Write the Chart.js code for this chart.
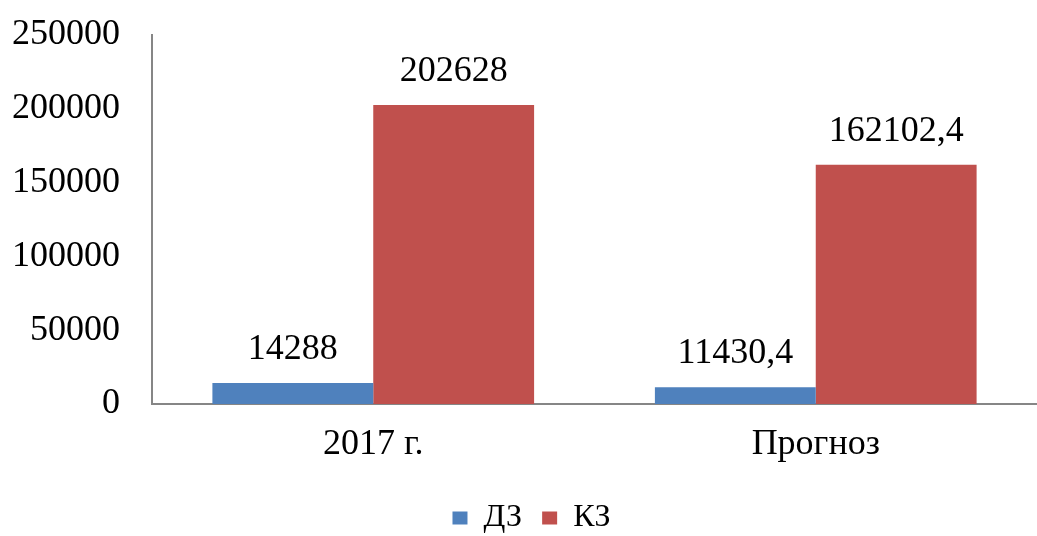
<!DOCTYPE html>
<html>
<head>
<meta charset="utf-8">
<script src="https://cdn.jsdelivr.net/npm/chart.js@4"></script>
<style>
  body { margin: 0; background: #fff; }
  #wrap { width: 1037px; height: 536px; }
</style>
</head>
<body>
<div id="wrap"><canvas id="myChart"></canvas></div>
<script>
const categories = ["2017 г.", "Прогноз"];
const seriesNames = ["ДЗ", "КЗ"];
const dzValues = [14288, 11430.4];
const kzValues = [202628, 162102.4];
const yTicks = [0, 50000, 100000, 150000, 200000, 250000];
const colors = ["#4F81BD", "#C0504D"];

const fontFamily = "'Liberation Serif', 'Times New Roman', serif";
const fontSize = 36;

const formatValue = (v) => String(v).replace(".", ",");

// подписи значений над столбцами
const valueLabels = {
  id: "valueLabels",
  afterDatasetsDraw(chart) {
    const ctx = chart.ctx;
    ctx.save();
    ctx.font = `${fontSize}px ${fontFamily}`;
    ctx.fillStyle = "#000";
    ctx.textAlign = "center";
    ctx.textBaseline = "alphabetic";
    chart.data.datasets.forEach((ds, i) => {
      const meta = chart.getDatasetMeta(i);
      meta.data.forEach((bar, j) => {
        ctx.fillText(formatValue(ds.data[j]), bar.x, bar.y - 24);
      });
    });
    ctx.restore();
  },
};

const ctx = document.querySelector("#myChart");
new Chart(ctx, {
  type: "bar",
  data: {
    labels: categories,
    datasets: [
      { label: seriesNames[0], data: dzValues, backgroundColor: colors[0] },
      { label: seriesNames[1], data: kzValues, backgroundColor: colors[1] },
    ],
  },
  options: {
    responsive: true,
    maintainAspectRatio: false,
    animation: false,
    layout: { padding: { left: 12, right: -14, top: 0, bottom: -8 } },
    categoryPercentage: 0.727,
    barPercentage: 1,
    plugins: {
      legend: {
        position: "bottom",
        labels: {
          boxWidth: 15,
          boxHeight: 13,
          padding: 20,
          color: "#000",
          font: { family: fontFamily, size: 32 },
        },
      },
      tooltip: { enabled: false },
    },
    scales: {
      x: {
        grid: { display: false, drawTicks: false },
        border: { color: "#868686", width: 2 },
        ticks: { color: "#000", padding: 19, font: { family: fontFamily, size: fontSize } },
        afterFit: (axis) => {
          axis.height = 78;
        },
      },
      y: {
        min: yTicks[0],
        max: yTicks[yTicks.length - 1],
        afterBuildTicks: (axis) => {
          axis.ticks = yTicks.map((v) => ({ value: v }));
        },
        afterFit: (axis) => {
          axis.width = 140;
          axis.paddingTop = 35;
          axis.paddingBottom = 0;
        },
        grid: { display: false, drawTicks: false },
        border: { color: "#868686", width: 2 },
        ticks: {
          color: "#000",
          padding: 32,
          callback: (v) => String(v),
          font: { family: fontFamily, size: fontSize },
        },
      },
    },
  },
  plugins: [valueLabels],
});
</script>
</body>
</html>
